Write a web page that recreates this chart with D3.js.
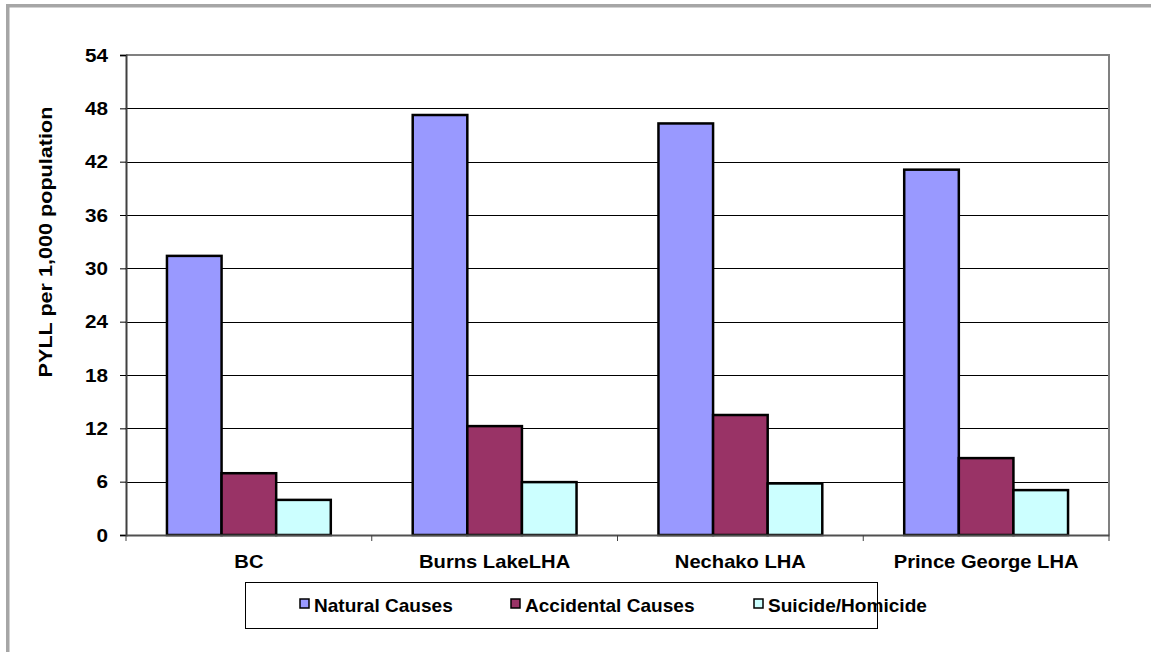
<!DOCTYPE html>
<html>
<head>
<meta charset="utf-8">
<script src="https://cdn.jsdelivr.net/npm/d3@7"></script>
<style>
  html, body { margin: 0; padding: 0; background: #fff; }
  svg { display: block; }
  text { font-family: "Liberation Sans", Arial, sans-serif; font-weight: bold; fill: #000; }
</style>
</head>
<body>
<svg id="chart" width="1151" height="652"></svg>
<script>
// Potential years of life lost per 1,000 population, by cause
const categories = ["BC", "Burns LakeLHA", "Nechako LHA", "Prince George LHA"];
const seriesNames = ["Natural Causes", "Accidental Causes", "Suicide/Homicide"];
const naturalCauses = [31.4, 47.25, 46.3, 41.1];
const accidentalCauses = [6.95, 12.25, 13.5, 8.65];
const suicideHomicide = [3.95, 5.95, 5.8, 5.05];
const yTicks = [0, 6, 12, 18, 24, 30, 36, 42, 48, 54];
const colors = ["#9999FF", "#993366", "#CCFFFF"];

const seriesValues = [naturalCauses, accidentalCauses, suicideHomicide];

const svg = d3.select("#chart");
const plot = { left: 126, right: 1109, top: 55, bottom: 535 };

// bold labels, slightly widened along the reading direction
function label(g, x, y, str, anchor, opts) {
  const o = Object.assign({ size: 18, sx: 1.12, rot: "" }, opts || {});
  return g.append("text")
    .attr("transform", `translate(${x},${y})${o.rot} scale(${o.sx},1)`)
    .attr("text-anchor", anchor)
    .attr("font-size", o.size)
    .text(str);
}

// outer frame
svg.append("rect")
  .attr("x", 7.75).attr("y", 5.75)
  .attr("width", 1200).attr("height", 700)
  .attr("fill", "none").attr("stroke", "#a6a6a6").attr("stroke-width", 3.5);

const x0 = d3.scaleBand().domain(categories).range([plot.left, plot.right]).padding(0);
const bw = x0.bandwidth();
const x1 = d3.scaleBand().domain(seriesNames).range([bw / 6, bw - bw / 6]).padding(0);
const y = d3.scaleLinear().domain([0, 54]).range([plot.bottom, plot.top]);

// gridlines
svg.append("g").selectAll("line")
  .data(yTicks.filter(t => t > 0 && t < 54))
  .join("line")
  .attr("x1", plot.left).attr("x2", plot.right)
  .attr("y1", d => Math.round(y(d)) + 0.5).attr("y2", d => Math.round(y(d)) + 0.5)
  .attr("stroke", "#000").attr("stroke-width", 1);

// plot area border (top and right)
svg.append("path")
  .attr("d", `M${plot.left},${plot.top} H${plot.right} V${plot.bottom}`)
  .attr("fill", "none").attr("stroke", "#808080").attr("stroke-width", 2);

// bars
const groups = svg.append("g").selectAll("g")
  .data(categories)
  .join("g")
  .attr("transform", d => `translate(${x0(d)},0)`);

groups.selectAll("rect")
  .data((c, i) => seriesNames.map((s, j) => ({ s, v: seriesValues[j][i], j })))
  .join("rect")
  .attr("x", d => x1(d.s))
  .attr("y", d => y(d.v))
  .attr("width", x1.bandwidth())
  .attr("height", d => y(0) - y(d.v))
  .attr("fill", d => colors[d.j])
  .attr("stroke", "#000").attr("stroke-width", 2.5);

// y axis
const yAxis = svg.append("g").attr("transform", `translate(${plot.left},0)`)
  .call(d3.axisLeft(y).tickValues(yTicks).tickSize(6).tickFormat(""));
yAxis.select(".domain").attr("stroke", "#404040").attr("stroke-width", 2);
yAxis.selectAll(".tick line").attr("stroke", "#000");
yTicks.forEach(t => label(svg, 108, y(t) + 6.5, String(t), "end", { sx: 1.15 }));

// x axis
const xAxis = svg.append("g").attr("transform", `translate(0,${plot.bottom})`)
  .call(d3.axisBottom(x0).tickSize(0).tickFormat(""));
xAxis.select(".domain").attr("stroke", "#505050").attr("stroke-width", 2);
const boundaries = categories.map(c => x0(c)).concat([plot.right]);
svg.append("g").selectAll("line").data(boundaries).join("line")
  .attr("x1", d => d).attr("x2", d => d)
  .attr("y1", plot.bottom).attr("y2", plot.bottom + 6)
  .attr("stroke", "#404040").attr("stroke-width", 1);
categories.forEach(c => label(svg, x0(c) + bw / 2, 567.5, c, "middle", { sx: 1.12 }));

// y axis title
label(svg, 52, 242, "PYLL per 1,000 population", "middle", { sx: 1.2, rot: " rotate(-90)" });

// legend
const legend = svg.append("g");
legend.append("rect")
  .attr("x", 245.5).attr("y", 582.5).attr("width", 632).attr("height", 46)
  .attr("fill", "#fff").attr("stroke", "#000").attr("stroke-width", 1);
const legendX = [300, 511, 754];
seriesNames.forEach((s, j) => {
  legend.append("rect")
    .attr("x", legendX[j]).attr("y", 599).attr("width", 9).attr("height", 9)
    .attr("fill", colors[j]).attr("stroke", "#000").attr("stroke-width", 1.5);
  label(legend, legendX[j] + 14, 611.5, s, "start", { sx: 1.06 });
});
</script>
</body>
</html>
